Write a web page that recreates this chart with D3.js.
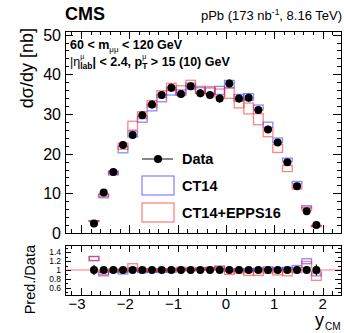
<!DOCTYPE html>
<html>
<head>
<meta charset="utf-8">
<script src="https://cdn.jsdelivr.net/npm/d3@7"></script>
<style>
  body { margin: 0; background: #fff; }
  svg { display: block; font-family: "Liberation Sans", Arial, sans-serif; }
</style>
</head>
<body>
<svg id="chart" width="344" height="333"></svg>
<script>
// bin centres in y_CM (bin width 0.2)
const yCM = [-2.73, -2.53, -2.33, -2.13, -1.93, -1.73, -1.53, -1.33, -1.13, -0.93, -0.73, -0.53,
             -0.33, -0.13, 0.07, 0.27, 0.47, 0.67, 0.87, 1.07, 1.27, 1.47, 1.67, 1.87];
const binHalf = 0.1;

// measured dsigma/dy [nb] and its uncertainty
const dataVal = [2.4, 10.2, 15.4, 22.2, 24.7, 29.7, 32.4, 34.8, 36.6, 35.0, 37.0, 35.2,
                 34.8, 33.9, 37.7, 33.9, 34.1, 31.0, 26.1, 22.8, 17.8, 11.8, 5.5, 2.0];
const dataErr = [0.27, 0.5, 0.6, 0.8, 0.9, 1.0, 1.0, 1.0, 1.0, 1.0, 1.0, 1.0,
                 1.0, 1.0, 1.0, 1.0, 1.0, 1.0, 0.9, 0.8, 0.7, 0.5, 0.4, 0.25];

// prediction / data bands (low, high)
const ct14Lo  = [1.21, 0.87, 0.95, 0.91, 0.98, 0.94, 0.95, 0.95, 0.95, 0.99, 0.98, 1.00,
                 1.01, 1.03, 0.97, 0.98, 0.98, 1.00, 1.02, 1.00, 1.01, 1.05, 1.14, 0.87];
const ct14Hi  = [1.30, 0.95, 1.00, 0.99, 1.04, 0.99, 1.00, 1.00, 1.00, 1.03, 1.02, 1.04,
                 1.05, 1.09, 1.02, 1.03, 1.03, 1.04, 1.07, 1.05, 1.06, 1.10, 1.25, 0.96];
const eppsLo  = [1.21, 0.90, 0.97, 0.95, 1.05, 0.97, 0.98, 0.98, 0.98, 1.00, 1.00, 1.00,
                 1.00, 1.01, 0.90, 0.93, 0.88, 0.88, 0.93, 0.89, 0.87, 0.94, 1.05, 0.77];
const eppsHi  = [1.30, 0.97, 1.02, 1.02, 1.14, 1.03, 1.03, 1.03, 1.03, 1.06, 1.04, 1.05,
                 1.06, 1.07, 0.97, 1.00, 0.96, 0.97, 1.01, 0.98, 0.96, 1.02, 1.19, 0.92];

const mainTicks = [0, 10, 20, 30, 40, 50];
const ratioTicks = [0.6, 0.8, 1, 1.2, 1.4];
const ratioTickLabels = ['0.6', '0.8', '1', '1.2', '1.4'];
const xTicks = [-3, -2, -1, 0, 1, 2];
const xTickLabels = ['\u22123', '\u22122', '\u22121', '0', '1', '2'];

const svg = d3.select('#chart');
const blue = 'rgba(40,40,255,0.55)';
const red = 'rgba(255,30,30,0.55)';

const L = 65, R = 341;
const x = d3.scaleLinear().domain([-3.33, 2.38]).range([L, R]);
const yMain = d3.scaleLinear().domain([0, 50.9]).range([233, 31]);
const yRat = d3.scaleLinear().domain([0.444, 1.556]).range([295, 245]);

// ROOT-style inner ticks on all four sides
function frameTicks(y, yMajor, yMinor, majLenX, minLenX, majLenY, minLenY) {
  const g = svg.append('g').attr('stroke', '#000').attr('stroke-width', 1);
  const [y0, y1] = y.range();
  const xMinor = d3.range(-32, 23, 2).map(v => v / 10);
  xMinor.forEach(v => {
    const len = Math.abs(v - Math.round(v)) < 1e-6 ? majLenX : minLenX;
    const px = Math.round(x(v)) + 0.5;
    g.append('line').attr('x1', px).attr('x2', px).attr('y1', y0).attr('y2', y0 - len);
    g.append('line').attr('x1', px).attr('x2', px).attr('y1', y1).attr('y2', y1 + len);
  });
  yMinor.forEach(v => {
    const len = yMajor.some(m => Math.abs(m - v) < 1e-6) ? majLenY : minLenY;
    const py = Math.round(y(v)) + 0.5;
    g.append('line').attr('x1', L).attr('x2', L + len).attr('y1', py).attr('y2', py);
    g.append('line').attr('x1', R).attr('x2', R - len).attr('y1', py).attr('y2', py);
  });
  svg.append('rect').attr('x', L + 0.5).attr('y', y1 + 0.5)
    .attr('width', R - L).attr('height', y0 - y1)
    .attr('fill', 'none').attr('stroke', '#000').attr('stroke-width', 1);
}

// ---------- main panel ----------
const main = svg.append('g');
const boxes = (g, yS, lo, hi, color, scaleByData) => {
  const f = i => (scaleByData ? dataVal[i] : 1);
  g.selectAll(null).data(yCM).enter().append('rect')
    .attr('x', d => x(d - binHalf))
    .attr('width', d => x(d + binHalf) - x(d - binHalf))
    .attr('y', (d, i) => yS(hi[i] * f(i)))
    .attr('height', (d, i) => yS(lo[i] * f(i)) - yS(hi[i] * f(i)))
    .attr('fill', 'none').attr('stroke', color).attr('stroke-width', 1.3);
};
boxes(main, yMain, ct14Lo, ct14Hi, blue, true);
boxes(main, yMain, eppsLo, eppsHi, red, true);

main.selectAll(null).data(yCM).enter().append('line')
  .attr('x1', d => x(d)).attr('x2', d => x(d))
  .attr('y1', (d, i) => yMain(dataVal[i] - dataErr[i]))
  .attr('y2', (d, i) => yMain(dataVal[i] + dataErr[i]))
  .attr('stroke', '#000').attr('stroke-width', 1.2);
main.selectAll(null).data(yCM).enter().append('circle')
  .attr('cx', d => x(d)).attr('cy', (d, i) => yMain(dataVal[i]))
  .attr('r', 4).attr('fill', '#000');

frameTicks(yMain, mainTicks, d3.range(0, 51, 2), 8, 4, 8, 4);

svg.selectAll(null).data(mainTicks).enter().append('text')
  .attr('x', 61).attr('y', d => yMain(d) + 6)
  .attr('text-anchor', 'end').attr('font-size', 16).text(d => d);

// ---------- ratio panel ----------
const rat = svg.append('g');
rat.append('line').attr('x1', L).attr('x2', R)
  .attr('y1', yRat(1)).attr('y2', yRat(1))
  .attr('stroke', 'rgba(255,60,60,0.7)').attr('stroke-width', 1.2);
boxes(rat, yRat, ct14Lo, ct14Hi, blue, false);
boxes(rat, yRat, eppsLo, eppsHi, red, false);
rat.selectAll(null).data(yCM).enter().append('line')
  .attr('x1', d => x(d)).attr('x2', d => x(d))
  .attr('y1', (d, i) => yRat(1 - dataErr[i] / dataVal[i]))
  .attr('y2', (d, i) => yRat(1 + dataErr[i] / dataVal[i]))
  .attr('stroke', '#000').attr('stroke-width', 1.2);
rat.selectAll(null).data(yCM).enter().append('circle')
  .attr('cx', d => x(d)).attr('cy', yRat(1))
  .attr('r', 4).attr('fill', '#000');

frameTicks(yRat, ratioTicks, d3.range(5, 16).map(v => v / 10), 7, 4, 6, 3);

svg.selectAll(null).data(ratioTicks).enter().append('text')
  .attr('x', 61).attr('y', d => yRat(d) + 3)
  .attr('text-anchor', 'end').attr('font-size', 8.5)
  .text((d, i) => ratioTickLabels[i]);

svg.selectAll(null).data(xTicks).enter().append('text')
  .attr('x', (d, i) => x(d) - (d < 0 ? 4 : 0)).attr('y', 309)
  .attr('text-anchor', 'middle').attr('font-size', 15)
  .text((d, i) => xTickLabels[i]);

// ---------- titles ----------
svg.append('text').attr('x', 65).attr('y', 20)
  .attr('font-size', 18).attr('font-weight', 'bold').text('CMS');
const lumi = svg.append('text').attr('x', 342).attr('y', 20)
  .attr('text-anchor', 'end').attr('font-size', 13);
lumi.append('tspan').text('pPb (173 nb');
lumi.append('tspan').attr('dy', -5).attr('font-size', 8.5).text('-1');
lumi.append('tspan').attr('dy', 5).text(', 8.16 TeV)');

svg.append('text').attr('transform', 'translate(33,28) rotate(-90)')
  .attr('text-anchor', 'end').attr('font-size', 18).text('d\u03c3/dy [nb]');
svg.append('text').attr('transform', 'translate(35,245) rotate(-90)')
  .attr('text-anchor', 'end').attr('font-size', 14.5).text('Pred./Data');

svg.append('text').attr('x', 315).attr('y', 326).attr('font-size', 18).text('y');
svg.append('text').attr('x', 325).attr('y', 330).attr('font-size', 10).text('CM');

// rich text helper: sequential segments, 'stack' puts a segment at the previous start x
function rich(x0, y0, parts) {
  let cx = x0, prevStart = x0, prevW = 0;
  parts.forEach(p => {
    const sx = p.stack ? prevStart : cx;
    const t = svg.append('text').attr('x', sx).attr('y', y0 + (p.dy || 0))
      .attr('font-size', p.s).attr('font-weight', p.w || 'bold')
      .style('white-space', 'pre').text(p.t);
    const w = t.node().getComputedTextLength();
    if (p.stack) { cx = sx + Math.max(prevW, w); }
    else { prevStart = sx; prevW = w; cx = sx + w; }
  });
}
rich(70, 49, [
  { t: '60 < m', s: 12.5 },
  { t: '\u03bc\u03bc', s: 8, dy: 3, w: 'normal' },
  { t: ' < 120 GeV', s: 12.5 }
]);
rich(70, 66, [
  { t: '|\u03b7', s: 12.5, w: 'normal' },
  { t: '\u03bc', s: 7, dy: -7, w: 'normal' },
  { t: 'lab', s: 8.5, dy: 3, stack: true },
  { t: '| < 2.4, p', s: 12.5 },
  { t: '\u03bc', s: 7, dy: -7, w: 'normal' },
  { t: 'T', s: 8.5, dy: 3, stack: true },
  { t: ' > 15 (10) GeV', s: 12.5 }
]);

// ---------- legend ----------
const lg = svg.append('g');
lg.append('line').attr('x1', 142).attr('x2', 173).attr('y1', 159).attr('y2', 159)
  .attr('stroke', '#888').attr('stroke-width', 2);
lg.append('circle').attr('cx', 158).attr('cy', 159).attr('r', 4).attr('fill', '#000');
lg.append('rect').attr('x', 142).attr('y', 176).attr('width', 32).attr('height', 19)
  .attr('fill', 'none').attr('stroke', blue).attr('stroke-width', 1.3);
lg.append('rect').attr('x', 142).attr('y', 203).attr('width', 32).attr('height', 19)
  .attr('fill', 'none').attr('stroke', red).attr('stroke-width', 1.3);
[['Data', 164], ['CT14', 191], ['CT14+EPPS16', 218]].forEach(([t, yy]) => {
  lg.append('text').attr('x', 182).attr('y', yy).attr('font-size', 14.5)
    .attr('font-weight', 'bold').text(t);
});
</script>
</body>
</html>
